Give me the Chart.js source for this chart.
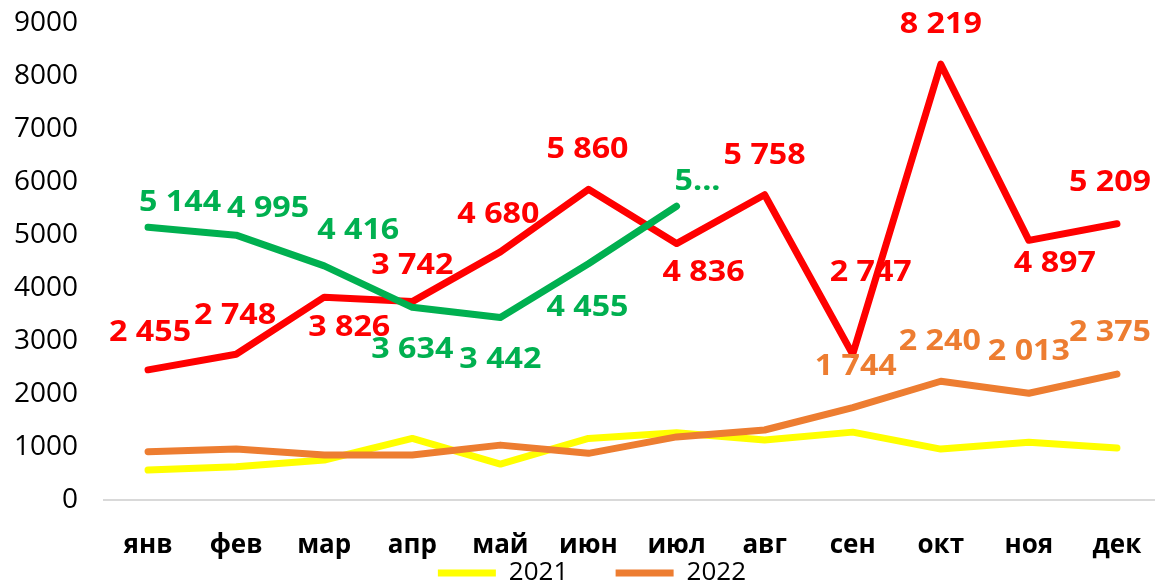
<!DOCTYPE html>
<html>
<head>
<meta charset="utf-8">
<script src="https://cdn.jsdelivr.net/npm/chart.js@4"></script>
<style>
html, body { margin: 0; padding: 0; background: #fff; overflow: hidden; }
#wrap { width: 1161px; height: 596px; }
</style>
</head>
<body>
<div id="wrap"><canvas id="chart" width="1161" height="596"></canvas></div>
<script>
const months = ["янв", "фев", "мар", "апр", "май", "июн", "июл", "авг", "сен", "окт", "ноя", "дек"];
const values2021 = [565, 627, 753, 1162, 678, 1162, 1270, 1130, 1280, 960, 1090, 980];
const values2022 = [910, 960, 850, 850, 1035, 880, 1190, 1320, 1744, 2240, 2013, 2375];
const values2023 = [2455, 2748, 3826, 3742, 4680, 5860, 4836, 5758, 2747, 8219, 4897, 5209];
const values2024 = [5144, 4995, 4416, 3634, 3442, 4455, 5540];
const yTicks = { min: 0, max: 9000, step: 1000 };

// where each value label sits relative to its point (px), null = no label
const labelOffsets = {
    2021: null,
    2022: [null, null, null, null, null, null, null, null, [3, -40], [-1, -39], [0, -41], [-7, -41]],
    2023: [[2, -37], [-1, -38], [25, 31], [0, -36], [-2, -37], [-1, -39], [27, 29], [0, -39], [18, -81], [0, -39], [26, 24], [-7, -41]],
    2024: [[32, -24], [32, -26], [34, -35], [0, 43], [0, 43], [-1, 44], [21, -24]],
};
// the last 2024 label is cut off in the original
const labelText = { 2024: { 6: "5..." } };

function fmt(v) {
    return String(v).replace(/\B(?=(\d{3})+(?!\d))/g, " ");
}

const valueLabels = {
    id: "valueLabels",
    afterDatasetsDraw(chart) {
        const ctx = chart.ctx;
        chart.data.datasets.forEach((ds, i) => {
            const offsets = labelOffsets[ds.label];
            if (!offsets) return;
            const meta = chart.getDatasetMeta(i);
            meta.data.forEach((pt, j) => {
                const off = offsets[j];
                if (!off) return;
                const custom = labelText[ds.label];
                const text = (custom && custom[j]) || fmt(ds.data[j]);
                ctx.save();
                ctx.translate(pt.x + off[0], pt.y + off[1]);
                ctx.scale(1.15, 1);
                ctx.font = "bold 28px 'Open Sans'";
                ctx.fillStyle = ds.borderColor;
                ctx.textAlign = "center";
                ctx.textBaseline = "middle";
                ctx.fillText(text, 0, 0);
                ctx.restore();
            });
        });
    },
};

function series(label, data, color, order) {
    return {
        label: label,
        data: data,
        borderColor: color,
        backgroundColor: color,
        borderWidth: 7,
        borderCapStyle: "round",
        borderJoinStyle: "round",
        pointRadius: 0,
        tension: 0,
        fill: false,
        order: order,
    };
}

const config = {
    type: "line",
    data: {
        labels: months,
        datasets: [
            series("2021", values2021, "#FFFF00", 4),
            series("2022", values2022, "#ED7D31", 3),
            series("2023", values2023, "#FF0000", 2),
            series("2024", values2024, "#00B050", 1),
        ],
    },
    options: {
        responsive: false,
        animation: false,
        layout: { padding: { top: 0, left: 0, right: 0, bottom: 0 } },
        scales: {
            x: {
                offset: true,
                // hidden tick marks: their length moves the labels down without side padding
                grid: { display: false, drawTicks: true, tickLength: 27 },
                border: { display: true, color: "#d9d9d9", width: 2 },
                ticks: {
                    color: "#000",
                    font: { family: "'Open Sans'", size: 26, weight: "bold", lineHeight: 1 },
                    padding: 6,
                    maxRotation: 0,
                },
                afterFit(scale) {
                    scale.height = 60;
                },
            },
            y: {
                min: yTicks.min,
                max: yTicks.max,
                grid: { display: false, drawTicks: true, tickLength: 20 },
                border: { display: false },
                ticks: {
                    stepSize: yTicks.step,
                    color: "#000",
                    font: { family: "'Open Sans'", size: 28 },
                    padding: 6,
                    callback: (v) => String(v),
                },
                afterFit(scale) {
                    scale.width = 104;
                },
            },
        },
        plugins: {
            legend: {
                position: "bottom",
                fullSize: false,
                labels: {
                    filter: (item) => item.datasetIndex < 2,
                    sort: (a, b) => a.datasetIndex - b.datasetIndex,
                    usePointStyle: true,
                    pointStyle: "line",
                    pointStyleWidth: 58,
                    color: "#000",
                    font: { family: "'Open Sans'", size: 26 },
                    padding: 0,
                    generateLabels(chart) {
                        const items = Chart.defaults.plugins.legend.labels.generateLabels(chart);
                        items.forEach((it) => {
                            if (it.datasetIndex === 0) it.text = it.text + "       ";
                            if (it.datasetIndex === 1) it.text = it.text + "            ";
                        });
                        return items;
                    },
                },
            },
            tooltip: { enabled: false },
        },
    },
    plugins: [valueLabels],
};

new Chart(document.getElementById("chart"), config);
</script>
</body>
</html>
